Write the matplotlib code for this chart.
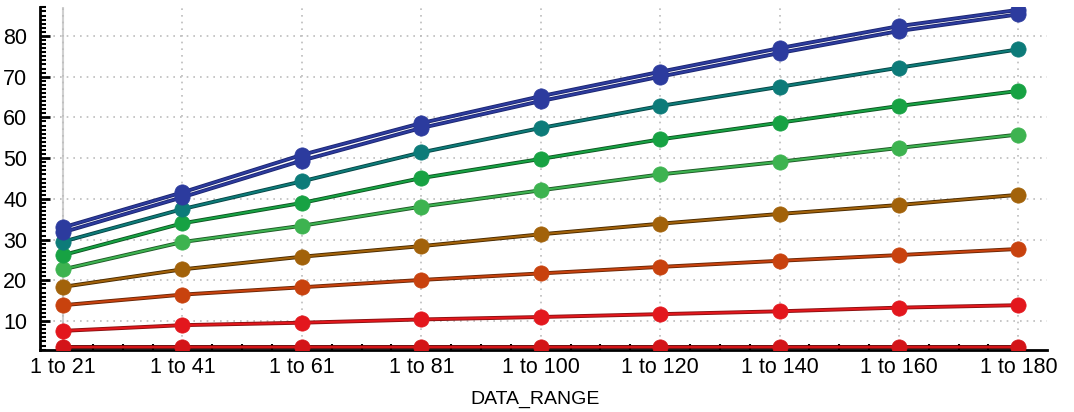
import numpy as np
import matplotlib.pyplot as plt
import matplotlib.patheffects as pe
from matplotlib.ticker import MultipleLocator, AutoMinorLocator

plt.rcParams['font.family'] = ['Liberation Sans', 'DejaVu Sans']

ranges = ['1 to 21', '1 to 41', '1 to 61', '1 to 81', '1 to 100',
          '1 to 120', '1 to 140', '1 to 160', '1 to 180']

# series, bottom to top
s_darkred = [3.7, 3.7, 3.7, 3.7, 3.7, 3.7, 3.7, 3.7, 3.7]
s_red = [7.6, 9.0, 9.6, 10.4, 11.0, 11.7, 12.4, 13.3, 13.9]
s_orange = [13.9, 16.5, 18.3, 20.1, 21.7, 23.3, 24.8, 26.2, 27.7]
s_brown = [18.4, 22.7, 25.8, 28.4, 31.3, 33.9, 36.3, 38.5, 41.0]
s_lgreen = [22.7, 29.4, 33.4, 38.1, 42.1, 46.0, 49.1, 52.5, 55.8]
s_green = [26.2, 34.0, 39.0, 45.1, 49.8, 54.6, 58.7, 62.8, 66.5]
s_teal = [29.5, 37.5, 44.3, 51.4, 57.4, 62.8, 67.5, 72.2, 76.7]
s_blue1 = [33.0, 41.6, 50.8, 58.6, 65.2, 71.2, 77.0, 82.4, 86.4]
s_blue2 = [31.8, 40.4, 49.4, 57.4, 64.0, 70.0, 75.8, 81.2, 85.3]

series = [
    (s_darkred, '#d31418', '#6a0606'),
    (s_red, '#e3171d', '#8a1010'),
    (s_orange, '#c8420e', '#6a2606'),
    (s_brown, '#a2620a', '#4a2a00'),
    (s_lgreen, '#3db350', '#1d5a26'),
    (s_green, '#17a243', '#0d5522'),
    (s_teal, '#0d7b79', '#064544'),
    (s_blue2, '#2c3b9e', '#1c2670'),
    (s_blue1, '#2c3b9e', '#1c2670'),
]

fig = plt.figure(figsize=(10.74, 4.12), dpi=100)
ax = fig.add_axes([40/1074, 62/412, 1007/1074, 343/412])

x = np.arange(len(ranges))
for vals, col, edge in series:
    ax.plot(x, vals, color=col, lw=1.5, zorder=3,
            path_effects=[pe.Stroke(linewidth=2.8, foreground=edge), pe.Normal()])
    ax.plot(x, vals, ls='none', marker='o', ms=11, color=col, mec=col, mew=0.5, zorder=4)

ax.set_xlim(-0.193, 8.24)
ax.set_ylim(2.9, 87.1)

ax.set_xticks(x)
ax.set_xticklabels(ranges)
ax.xaxis.set_minor_locator(AutoMinorLocator(4))
ax.set_yticks(np.arange(10, 81, 10))
ax.yaxis.set_minor_locator(MultipleLocator(1))

ax.grid(True, which='major', color='#bcbcbc', linestyle=(0, (1, 3)), lw=1.2)
ax.axvline(0, color='#d0d0d0', lw=1.5, zorder=1)

for s in ['top', 'right']:
    ax.spines[s].set_visible(False)
ax.spines['left'].set_linewidth(2)
ax.spines['bottom'].set_linewidth(2)

ax.tick_params(axis='both', which='major', direction='in', length=7, width=2,
               labelsize=15.5, pad=5)
ax.tick_params(axis='both', which='minor', direction='in', length=4, width=1.5)
ax.tick_params(axis='y', which='major', pad=9)

ax.set_xlabel('DATA_RANGE', fontsize=14)
ax.xaxis.set_label_coords(0.4916, -0.12)

fig.savefig('out.png', dpi=100)
